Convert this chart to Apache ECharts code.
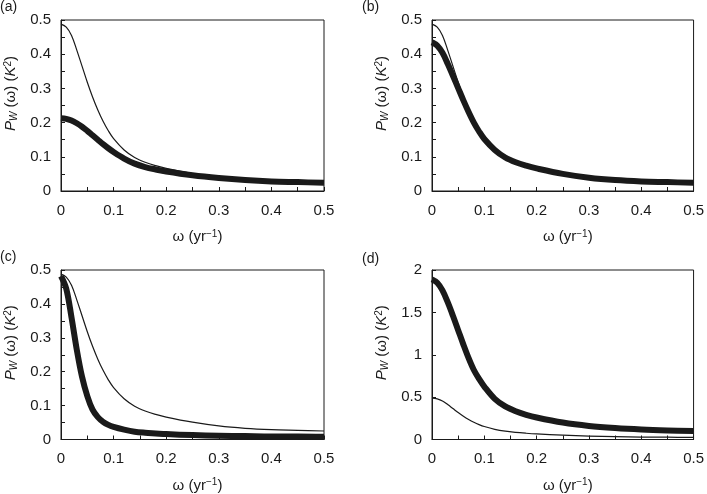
<!DOCTYPE html>
<html>
<head>
<meta charset="utf-8">
<script src="https://cdn.jsdelivr.net/npm/echarts@6/dist/echarts.min.js"></script>
<style>
html,body{margin:0;padding:0;background:#fff;}
#chart{width:707px;height:494px;}
</style>
</head>
<body>
<div id="chart"></div>
<script>
// frequency samples (yr^-1)
const omega = [0, 0.01, 0.02, 0.03, 0.04, 0.05, 0.06, 0.07, 0.08, 0.09, 0.10, 0.12, 0.14, 0.16, 0.18, 0.20, 0.25, 0.30, 0.35, 0.40, 0.45, 0.50];
// thin reference spectrum (same in every panel)
const thinRef = [0.488, 0.479, 0.455, 0.412, 0.365, 0.318, 0.275, 0.237, 0.204, 0.176, 0.153, 0.120, 0.098, 0.084, 0.074, 0.066, 0.051, 0.040, 0.033, 0.029, 0.027, 0.025];
// thick spectra, panels (a)-(d)
const thickA = [0.213, 0.211, 0.206, 0.198, 0.188, 0.176, 0.163, 0.150, 0.137, 0.125, 0.114, 0.095, 0.080, 0.070, 0.063, 0.057, 0.046, 0.038, 0.032, 0.028, 0.026, 0.024];
const thickB = [0.435, 0.425, 0.404, 0.372, 0.337, 0.301, 0.265, 0.231, 0.200, 0.174, 0.152, 0.120, 0.098, 0.084, 0.074, 0.066, 0.050, 0.039, 0.032, 0.028, 0.026, 0.024];
const thickC = [0.482, 0.445, 0.360, 0.265, 0.185, 0.128, 0.088, 0.066, 0.052, 0.043, 0.037, 0.029, 0.023, 0.020, 0.018, 0.016, 0.013, 0.011, 0.010, 0.009, 0.009, 0.008];
const thickD = [1.89, 1.85, 1.76, 1.62, 1.46, 1.29, 1.12, 0.96, 0.82, 0.715, 0.625, 0.48, 0.39, 0.333, 0.292, 0.26, 0.20, 0.16, 0.135, 0.118, 0.107, 0.10];
const panelLabels = ['(a)', '(b)', '(c)', '(d)'];
const yMax = [0.5, 0.5, 0.5, 2];
const yStep = [0.1, 0.1, 0.1, 0.5];

const ink = '#1a1a1a';
const font = 'Liberation Sans, Arial, sans-serif';
const grids = [
  {left: 61, top: 20, width: 263, height: 171},
  {left: 432, top: 20, width: 264, height: 171},
  {left: 61, top: 270, width: 263, height: 171},
  {left: 432, top: 270, width: 264, height: 171}
];
const titlePos = [{left: 0, top: 0}, {left: 362, top: 0}, {left: 0, top: 250}, {left: 362, top: 252}];

function pairs(ys) { return omega.map((w, i) => [w, ys[i]]); }
const thickSets = [thickA, thickB, thickC, thickD];

const option = {
  backgroundColor: '#fff',
  animation: false,
  title: panelLabels.map((t, i) => ({
    text: t, left: titlePos[i].left, top: titlePos[i].top, padding: 0,
    textStyle: {fontSize: 14, fontWeight: 'normal', color: ink, fontFamily: font}
  })),
  grid: grids.map(g => Object.assign({show: true, borderColor: ink, borderWidth: 1, backgroundColor: 'transparent'}, g)),
  xAxis: grids.map((g, i) => ({
    gridIndex: i, type: 'value', min: 0, max: 0.5, interval: 0.1,
    name: '{n|ω (yr}{s|−1}{n|)}', nameLocation: 'middle', nameGap: 38,
    nameTextStyle: {padding: [0, 0, 0, 10], rich: {
      n: {fontSize: 15, color: ink, fontFamily: font},
      s: {fontSize: 10, color: ink, fontFamily: font, verticalAlign: 'top', padding: [0, 0, 6, 0]}
    }},
    axisLine: {show: true, onZero: false, lineStyle: {color: ink, width: 1}},
    axisTick: {show: true, inside: true, length: 4, lineStyle: {color: ink}},
    minorTick: {show: true, splitNumber: 2, length: 4, lineStyle: {color: ink}},
    splitLine: {show: false},
    axisLabel: {fontSize: 15, color: ink, fontFamily: font, margin: 12}
  })),
  yAxis: grids.map((g, i) => ({
    gridIndex: i, type: 'value', min: 0, max: yMax[i], interval: yStep[i],
    name: '{i|P}{sub|W}{n| (ω) (}{i|K}{sup|2}{n|)}', nameLocation: 'middle', nameRotate: 90, nameGap: 42,
    nameTextStyle: {padding: [0, 0, 0, 24], rich: {
      i: {fontSize: 15, fontStyle: 'italic', color: ink, fontFamily: font},
      n: {fontSize: 15, color: ink, fontFamily: font},
      sub: {fontSize: 10, fontStyle: 'italic', color: ink, fontFamily: font, verticalAlign: 'bottom', padding: [6, 0, 0, 0]},
      sup: {fontSize: 10, color: ink, fontFamily: font, verticalAlign: 'top', padding: [0, 0, 6, 0]}
    }},
    axisLine: {show: true, onZero: false, lineStyle: {color: ink, width: 1}},
    axisTick: {show: true, inside: true, length: 4, lineStyle: {color: ink}},
    minorTick: {show: i < 3, splitNumber: 2, length: 4, lineStyle: {color: ink}},
    splitLine: {show: false},
    axisLabel: {fontSize: 15, color: ink, fontFamily: font, margin: 10}
  })),
  series: []
};

thickSets.forEach((ys, i) => {
  option.series.push({
    type: 'line', xAxisIndex: i, yAxisIndex: i, data: pairs(ys),
    smooth: 0.35, showSymbol: false, symbol: 'none',
    lineStyle: {color: ink, width: 6, cap: 'butt', join: 'round'}, z: 2
  });
  option.series.push({
    type: 'line', xAxisIndex: i, yAxisIndex: i, data: pairs(thinRef),
    smooth: 0.35, showSymbol: false, symbol: 'none',
    lineStyle: {color: ink, width: 1.2, join: 'round'}, z: 3
  });
});

const chart = echarts.init(document.getElementById('chart'), null, {renderer: 'canvas'});
chart.setOption(option);
</script>
</body>
</html>
